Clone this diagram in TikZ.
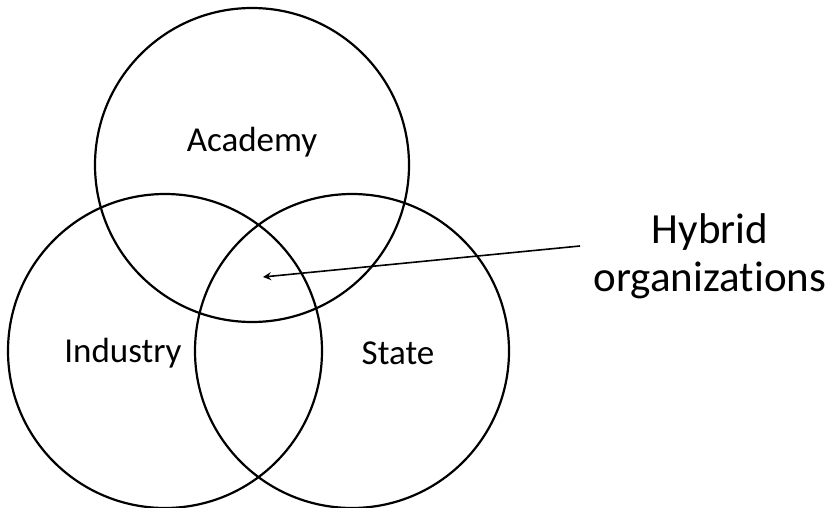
\documentclass[tikz,border=0pt]{standalone}
\usepackage{fontspec}
\setmainfont[Ligatures=NoCommon]{Carlito}
\usetikzlibrary{arrows}
\tikzstyle{ring} = [circle, draw=black, line width=1.1pt, minimum size=157pt, inner sep=0pt]
\tikzstyle{sector} = [font=\fontsize{17.5}{20}\selectfont]
\tikzstyle{arrow} = [line width=0.8pt,->,>=stealth]
\begin{document}
\begin{tikzpicture}[x=0.5pt,y=-0.5pt]
\useasboundingbox (0,0) rectangle (835,508);
\node (acad) [ring] at (252,165) {};
\node (ind) [ring] at (165,351) {};
\node (state) [ring] at (352,351) {};
\node (acadlab) [sector] at (252,142) {Academy};
\node (indlab) [sector] at (123,353) {Industry};
\node (statelab) [sector] at (398,353) {State};
\node (hybrid) [font=\fontsize{21.5}{24}\selectfont, align=center] at (710,256) {Hybrid\\organizations};
\coordinate (tail) at (580,246);
\coordinate (core) at (263,277);
\draw [arrow] (tail) -- (core);
\end{tikzpicture}
\end{document}
